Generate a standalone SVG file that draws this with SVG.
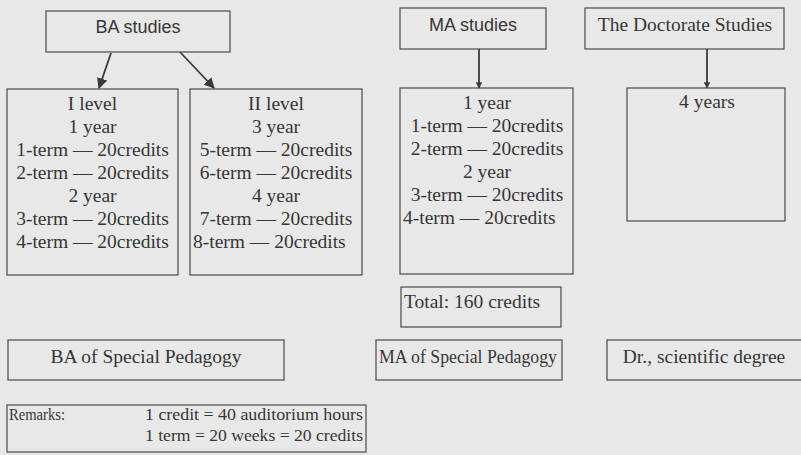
<svg xmlns="http://www.w3.org/2000/svg" width="801" height="455" viewBox="0 0 801 455">
<defs>
<style>
.box{fill:none;stroke:#4a4a4a;stroke-width:1.2}
.t{font-family:"Liberation Serif","Times New Roman",serif;font-size:19.5px;fill:#363636;text-anchor:middle}
.s{font-family:"Liberation Sans",Arial,sans-serif;font-size:18px;fill:#363636;text-anchor:middle}
.l{text-anchor:start}
.r{font-family:"Liberation Serif","Times New Roman",serif;font-size:16px;fill:#363636}
.c{stroke:#3a3a3a;stroke-width:1.8;fill:none}
</style>
<marker id="ah" viewBox="0 0 10 10" refX="9" refY="5" markerWidth="6" markerHeight="6" orient="auto" markerUnits="strokeWidth">
<path d="M0,0 L10,5 L0,10 z" fill="#3a3a3a"/>
</marker>
<marker id="ahs" viewBox="0 0 10 10" refX="9" refY="5" markerWidth="3.5" markerHeight="3.5" orient="auto" markerUnits="strokeWidth">
<path d="M0,0 L10,5 L0,10 z" fill="#3a3a3a"/>
</marker>
</defs>
<rect width="801" height="455" fill="#e8e8e8"/>
<g id="connectors">
<line class="c" x1="111" y1="53" x2="99" y2="88" marker-end="url(#ah)"/>
<line class="c" x1="180" y1="52" x2="214" y2="88" marker-end="url(#ah)"/>
<line class="c" x1="479" y1="49" x2="479" y2="88" marker-end="url(#ahs)"/>
<line class="c" x1="707" y1="49" x2="707" y2="88" marker-end="url(#ahs)"/>
</g>
<g id="ba-studies">
<rect class="box" x="46" y="11" width="184" height="41"/>
<text class="s" x="138" y="33">BA studies</text>
</g>
<g id="ma-studies">
<rect class="box" x="400" y="8" width="146" height="41"/>
<text class="s" x="473" y="31">MA studies</text>
</g>
<g id="doctorate-studies">
<rect class="box" x="585" y="8" width="199" height="41"/>
<text class="t" x="685" y="31">The Doctorate Studies</text>
</g>
<g id="level-1">
<rect class="box" x="7" y="89" width="171" height="186"/>
<text class="t" x="92.5" y="110">I level</text>
<text class="t" x="92.5" y="133">1 year</text>
<text class="t" x="92.5" y="156">1-term — 20credits</text>
<text class="t" x="92.5" y="179">2-term — 20credits</text>
<text class="t" x="92.5" y="202">2 year</text>
<text class="t" x="92.5" y="225">3-term — 20credits</text>
<text class="t" x="92.5" y="248">4-term — 20credits</text>
</g>
<g id="level-2">
<rect class="box" x="190" y="89" width="172" height="186"/>
<text class="t" x="276" y="110">II level</text>
<text class="t" x="276" y="133">3 year</text>
<text class="t" x="276" y="156">5-term — 20credits</text>
<text class="t" x="276" y="179">6-term — 20credits</text>
<text class="t" x="276" y="202">4 year</text>
<text class="t" x="276" y="225">7-term — 20credits</text>
<text class="t l" x="193" y="248">8-term — 20credits</text>
</g>
<g id="ma-content">
<rect class="box" x="400" y="88" width="173" height="186"/>
<text class="t" x="487" y="109">1 year</text>
<text class="t" x="487" y="132">1-term — 20credits</text>
<text class="t" x="487" y="155">2-term — 20credits</text>
<text class="t" x="487" y="178">2 year</text>
<text class="t" x="487" y="201">3-term — 20credits</text>
<text class="t l" x="403" y="224">4-term — 20credits</text>
</g>
<g id="doc-content">
<rect class="box" x="627" y="88" width="158" height="133"/>
<text class="t" x="707" y="108">4 years</text>
</g>
<g id="total">
<rect class="box" x="401" y="287" width="160" height="40"/>
<text class="t l" x="404" y="308">Total: 160 credits</text>
</g>
<g id="ba-degree">
<rect class="box" x="8" y="340" width="276" height="40"/>
<text class="t" x="146" y="363">BA of Special Pedagogy</text>
</g>
<g id="ma-degree">
<rect class="box" x="376" y="340" width="186" height="40"/>
<text class="t" x="468" y="363" textLength="178" lengthAdjust="spacingAndGlyphs">MA of Special Pedagogy</text>
</g>
<g id="dr-degree">
<rect class="box" x="607" y="340" width="200" height="40"/>
<text class="t" x="704" y="363">Dr., scientific degree</text>
</g>
<g id="remarks">
<rect class="box" x="7" y="405" width="359" height="47"/>
<text class="r" x="9" y="420" textLength="56" lengthAdjust="spacingAndGlyphs">Remarks:</text>
<text class="r" x="145" y="420" textLength="218" lengthAdjust="spacingAndGlyphs">1 credit = 40 auditorium hours</text>
<text class="r" x="145" y="441" textLength="218" lengthAdjust="spacingAndGlyphs">1 term = 20 weeks = 20 credits</text>
</g>
</svg>
